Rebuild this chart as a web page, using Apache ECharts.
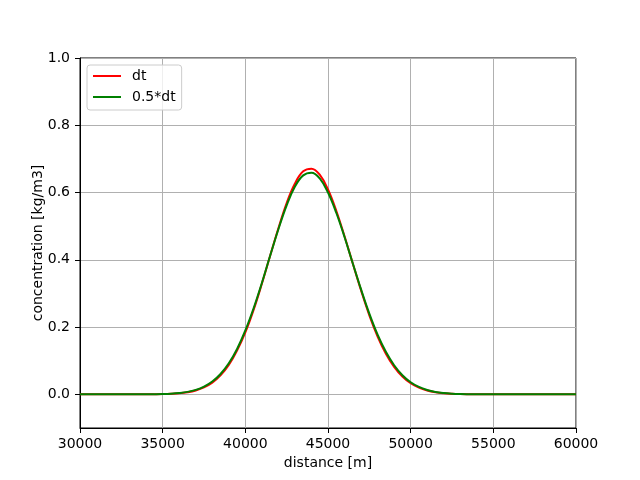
<!DOCTYPE html>
<html>
<head>
<meta charset="utf-8">
<script src="https://cdn.jsdelivr.net/npm/echarts@6/dist/echarts.min.js"></script>
<style>html,body{margin:0;padding:0;background:#fff;}#c{width:640px;height:480px;}</style>
</head>
<body>
<div id="c"></div>
<script>
const distance = [30000,30500,31000,31500,32000,32500,33000,33500,34000,34500,35000,35500,36000,36500,37000,37500,38000,38500,39000,39500,40000,40500,41000,41500,42000,42500,43000,43500,44000,44500,45000,45500,46000,46500,47000,47500,48000,48500,49000,49500,50000,50500,51000,51500,52000,52500,53000,53500,54000,54500,55000,55500,56000,56500,57000,57500,58000,58500,59000,59500,60000];
const dtValues = [0,0,0,0,0,0,0,0,0.0001,0.0004,0.0008,0.0017,0.0033,0.0064,0.0117,0.0206,0.0348,0.0563,0.0872,0.130,0.184,0.251,0.329,0.412,0.494,0.569,0.627,0.663,0.671,0.653,0.609,0.546,0.470,0.389,0.309,0.235,0.172,0.121,0.0818,0.0530,0.0330,0.0198,0.0113,0.0062,0.0033,0.0017,0.0008,0.0004,0.0002,0.0001,0,0,0,0,0,0,0,0,0,0,0];
const halfDtValues = [0,0,0,0,0,0,0,0.0001,0.0002,0.0005,0.0010,0.0020,0.0040,0.0074,0.0133,0.0230,0.0381,0.0605,0.0923,0.135,0.190,0.256,0.331,0.412,0.491,0.562,0.618,0.651,0.659,0.642,0.600,0.540,0.468,0.389,0.312,0.240,0.1775,0.1264,0.0865,0.0570,0.0361,0.0220,0.0129,0.0072,0.0039,0.0020,0.0010,0.0005,0.0002,0.0001,0,0,0,0,0,0,0,0,0,0,0];
const seriesNames = ['dt', '0.5*dt'];
const yTicks = [0, 0.2, 0.4, 0.6, 0.8, 1.0];

const font = 'DejaVu Sans';
const chart = echarts.init(document.getElementById('c'), null, {renderer: 'canvas'});
const pairs = vals => distance.map((d, i) => [d, vals[i]]);
chart.setOption({
  animation: false,
  backgroundColor: '#ffffff',
  grid: {left: 80, top: 58, width: 496, height: 370, show: true, borderColor: '#000000', borderWidth: 1, backgroundColor: 'transparent'},
  legend: {
    orient: 'vertical', left: 87, top: 65,
    data: seriesNames,
    itemWidth: 28, itemHeight: 14, itemGap: 7,
    padding: [4, 6, 6, 5],
    itemStyle: {opacity: 0},
    backgroundColor: 'rgba(255,255,255,0.8)', borderColor: '#cccccc', borderWidth: 1, borderRadius: 3,
    textStyle: {fontFamily: font, fontSize: 14, color: '#000', padding: [0, 0, 0, 6]}
  },
  xAxis: {
    type: 'value', min: 30000, max: 60000, interval: 5000,
    name: 'distance [m]', nameLocation: 'middle', nameGap: 28, nameMoveOverlap: false,
    nameTextStyle: {fontFamily: font, fontSize: 14, color: '#000'},
    axisLine: {show: true, onZero: false, lineStyle: {color: '#000', width: 1}},
    axisTick: {show: true, length: 5, lineStyle: {color: '#000', width: 1}},
    axisLabel: {fontFamily: font, fontSize: 14, color: '#000', margin: 9, formatter: v => String(v)},
    splitLine: {show: true, lineStyle: {color: '#b0b0b0', width: 1}}
  },
  yAxis: {
    type: 'value', min: -0.1, max: 1.0,
    name: 'concentration [kg/m3]', nameLocation: 'middle', nameGap: 35, nameMoveOverlap: false,
    nameTextStyle: {fontFamily: font, fontSize: 14, color: '#000'},
    axisLine: {show: true, onZero: false, lineStyle: {color: '#000', width: 1}},
    axisTick: {show: true, length: 5, customValues: yTicks, lineStyle: {color: '#000', width: 1}},
    axisLabel: {fontFamily: font, fontSize: 14, color: '#000', margin: 10, customValues: yTicks, formatter: v => Number(v).toFixed(1)},
    splitLine: {show: true, lineStyle: {color: '#b0b0b0', width: 1}}
  },
  series: [
    {name: seriesNames[0], type: 'line', data: pairs(dtValues), symbol: 'none', smooth: 0.4, lineStyle: {color: '#ff0000', width: 2}, itemStyle: {color: '#ff0000'}},
    {name: seriesNames[1], type: 'line', data: pairs(halfDtValues), symbol: 'none', smooth: 0.4, lineStyle: {color: '#008000', width: 2}, itemStyle: {color: '#008000'}}
  ]
});
</script>
</body>
</html>
